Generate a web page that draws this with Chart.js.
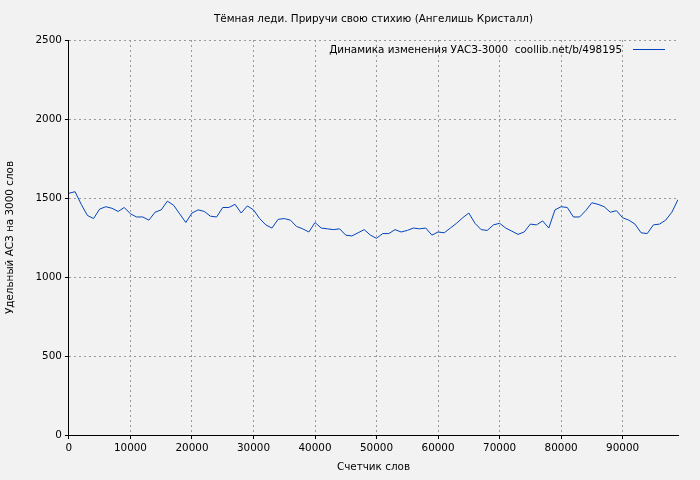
<!DOCTYPE html><html><head><meta charset="utf-8">
<script src="https://cdn.jsdelivr.net/npm/chart.js@4"></script>
<style>html,body{margin:0;background:#f2f2f2}</style></head><body><canvas id="c" width="700" height="480"></canvas>
<script>
const words=[];for(let i=0;i<=99;i++)words.push(i*1000);
const values=[1530,1540,1460,1390,1370,1430,1445,1435,1415,1440,1400,1380,1380,1360,1410,1425,1480,1455,1400,1345,1405,1425,1415,1385,1380,1440,1440,1460,1405,1450,1425,1370,1330,1310,1365,1370,1360,1320,1305,1285,1345,1310,1305,1300,1305,1265,1260,1280,1300,1265,1245,1275,1275,1300,1285,1295,1310,1305,1310,1265,1285,1280,1310,1340,1375,1405,1340,1300,1295,1330,1340,1310,1290,1270,1285,1335,1330,1355,1310,1425,1445,1440,1380,1380,1420,1470,1460,1445,1410,1420,1375,1360,1335,1280,1275,1330,1335,1360,1410,1490];
const xTicks=[0,10000,20000,30000,40000,50000,60000,70000,80000,90000];
const yTicks=[0,500,1000,1500,2000,2500];
const title='Тёмная леди. Приручи свою стихию (Ангелишь Кристалл)';
const seriesLabel='Динамика изменения УАСЗ-3000  coollib.net/b/498195';
const F='DejaVu Sans', FS=10.4;
const textPlugin={id:'lg',afterDraw(ch){const c=ch.ctx,a=ch.chartArea;c.save();c.font=FS+'px "'+F+'"';c.fillStyle='#000';c.textBaseline='middle';
c.textAlign='center';c.fillText(title,(a.left+a.right)/2,19);
c.textAlign='right';c.fillText(seriesLabel,a.right-56,50);c.strokeStyle='#0044bb';c.lineWidth=1;c.beginPath();c.moveTo(a.right-45,49.5);c.lineTo(a.right-13,49.5);c.stroke();c.restore();}};
new Chart(document.getElementById('c'),{type:'line',data:{datasets:[{data:words.map((x,i)=>({x,y:values[i]})),borderColor:'#0044bb',borderWidth:1,pointRadius:0,tension:0}]},
options:{responsive:false,animation:false,devicePixelRatio:1,
layout:{padding:{top:40,right:22,left:4,bottom:2}},
plugins:{legend:{display:false},tooltip:{enabled:false},title:{display:false}},
scales:{x:{type:'linear',min:0,max:99000,afterBuildTicks:s=>{s.ticks=xTicks.map(v=>({value:v}))},ticks:{color:'#000',font:{family:F,size:FS},maxRotation:0,autoSkip:false,callback:v=>String(v)},grid:{color:'#999',tickLength:4,tickColor:'#000'},border:{color:'#000',dash:[2,3]},title:{display:true,text:'Счетчик слов',color:'#000',font:{family:F,size:FS}}},
y:{min:0,max:2500,afterBuildTicks:s=>{s.ticks=yTicks.map(v=>({value:v}))},ticks:{color:'#000',font:{family:F,size:FS},callback:v=>String(v)},grid:{color:'#999',tickLength:4,tickColor:'#000'},border:{color:'#000',dash:[2,3]},title:{display:true,text:'Удельный АСЗ на 3000 слов',color:'#000',font:{family:F,size:FS},padding:{top:0,bottom:16}}}}},
plugins:[textPlugin]});
</script></body></html>
